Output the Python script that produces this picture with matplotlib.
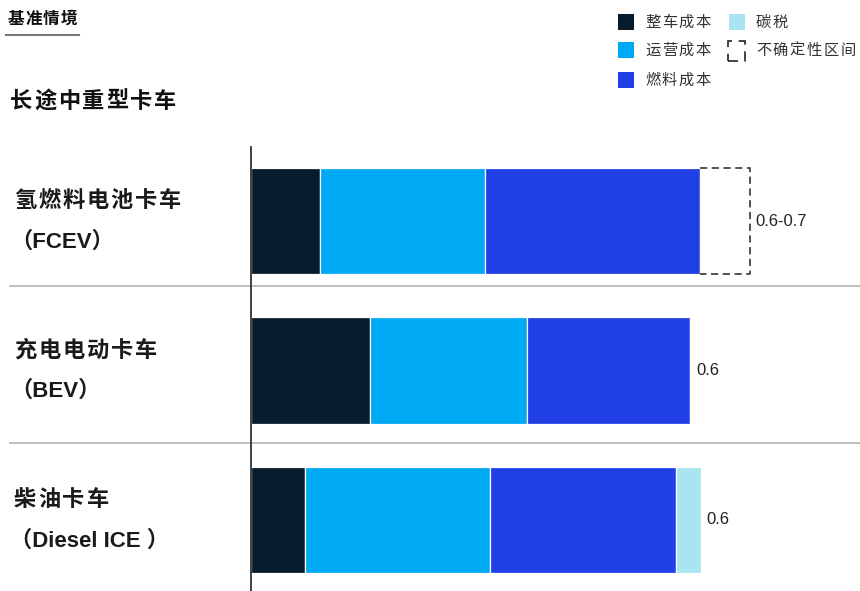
import matplotlib
matplotlib.use("Agg")
import matplotlib.pyplot as plt
from matplotlib.patches import Rectangle
from matplotlib.lines import Line2D
import matplotlib.transforms as mtransforms

plt.rcParams['font.family'] = ['Noto Sans CJK SC', 'DejaVu Sans']

# ---- data ----
categories_cn = ["氢燃料电池卡车", "充电电动卡车", "柴油卡车"]
categories_en = ["（FCEV）", "（BEV）", "（Diesel ICE ）"]
segment_names = ["整车成本", "运营成本", "燃料成本", "碳税"]
segment_colors = ["#071c2c", "#00a9f4", "#2040e6", "#a8e5f0"]
vehicle_cost = [0.094, 0.162, 0.074]
operating_cost = [0.225, 0.215, 0.252]
fuel_cost = [0.293, 0.222, 0.254]
carbon_tax = [0.0, 0.0, 0.033]
range_high = [0.68, None, None]
value_labels = ["0.6-0.7", "0.6", "0.6"]
uncertainty_name = "不确定性区间"

W, H = 860, 591
fig = plt.figure(figsize=(W / 100, H / 100), dpi=100)


def spaced(x_px, y, s, step_px, transform, **kw):
    """Draw a CJK string one glyph at a time with a fixed advance."""
    for k, ch in enumerate(s):
        fig.text((x_px + k * step_px) / W, y, ch, transform=transform, **kw)


# bar axes: left edge at the vertical axis line
ax = fig.add_axes([251 / W, 0, 1 - 251 / W, 1 - 147 / H])
ax.set_xlim(0, 609 / 733.3)
ax.set_ylim(2.475, -0.495)
for s in ["top", "right", "bottom"]:
    ax.spines[s].set_visible(False)
ax.spines["left"].set_color("#333333")
ax.spines["left"].set_linewidth(1.3)
ax.set_xticks([])
ax.set_yticks([])

bar_h = 0.71
rows = range(len(categories_cn))
series = [vehicle_cost, operating_cost, fuel_cost, carbon_tax]
lefts = [0.0] * len(categories_cn)
for vals, col in zip(series, segment_colors):
    ax.barh(list(rows), vals, left=lefts, height=bar_h, color=col,
            edgecolor="white", linewidth=0.9)
    lefts = [l + v for l, v in zip(lefts, vals)]

# uncertainty bracket (top, right, bottom dashed)
for i, hi in enumerate(range_high):
    if hi is None:
        continue
    x0 = lefts[i]
    y0, y1 = i - bar_h / 2, i + bar_h / 2
    ax.plot([x0, hi, hi, x0], [y0, y0, y1, y1], color="#444444",
            linestyle=(0, (4, 2.5)), linewidth=1.3, clip_on=False)

# value labels
for i, lab in enumerate(value_labels):
    xend = range_high[i] if range_high[i] is not None else lefts[i]
    ax.text(xend + 0.008, i, lab, va="center", ha="left", fontsize=12,
            color="#222222", family=["Liberation Sans", "DejaVu Sans"])

# row separators spanning the full width
trans = mtransforms.blended_transform_factory(fig.transFigure, ax.transData)
for y in [0.435, 1.485]:
    ax.add_line(Line2D([10 / W, 1.0], [y, y], transform=trans,
                       color="#b8b8b8", linewidth=1.3, clip_on=False, zorder=0))

# category labels
for i in rows:
    spaced(14, i - 0.135, categories_cn[i], 24.2, trans,
           fontsize=16, fontweight="bold", color="#1a1a1a",
           va="center", ha="left")
    fig.text(10 / W, i + 0.14, categories_en[i], transform=trans,
             fontsize=16, fontweight="bold", color="#1a1a1a",
             va="center", ha="left",
             family=["Liberation Sans", "Noto Sans CJK SC"])

# headings
spaced(8, 1 - 19 / H, "基准情境", 17.4, fig.transFigure, fontsize=12,
       fontweight="bold", color="#111111", va="center", ha="left")
fig.add_artist(Line2D([6 / W, 79 / W], [1 - 35 / H, 1 - 35 / H],
                      color="#777777", linewidth=1.5))
spaced(10, 1 - 101 / H, "长途中重型卡车", 24.0, fig.transFigure, fontsize=16,
       fontweight="bold", color="#111111", va="center", ha="left")


# legend
def legend_box(x, y, color):
    fig.add_artist(Rectangle((x / W, 1 - (y + 8) / H), 16 / W, 16 / H,
                             facecolor=color, edgecolor="none",
                             transform=fig.transFigure))


def legend_text(x, y, s):
    spaced(x, 1 - y / H, s, 16.9, fig.transFigure, fontsize=11,
           color="#333333", va="center", ha="left")


legend_box(618, 22, segment_colors[0]); legend_text(645, 22, segment_names[0])
legend_box(618, 50, segment_colors[1]); legend_text(645, 50, segment_names[1])
legend_box(618, 80, segment_colors[2]); legend_text(645, 80, segment_names[2])
legend_box(729, 22, segment_colors[3]); legend_text(756, 22, segment_names[3])

# dashed box icon for the uncertainty range
fig.add_artist(Rectangle((728 / W, 1 - 61 / H), 17 / W, 20 / H,
                         facecolor="none", edgecolor="#222222",
                         linewidth=1.2, linestyle=(0, (6, 4)),
                         transform=fig.transFigure))
legend_text(756, 50, uncertainty_name)

fig.savefig("out.png", dpi=100, facecolor="white")
